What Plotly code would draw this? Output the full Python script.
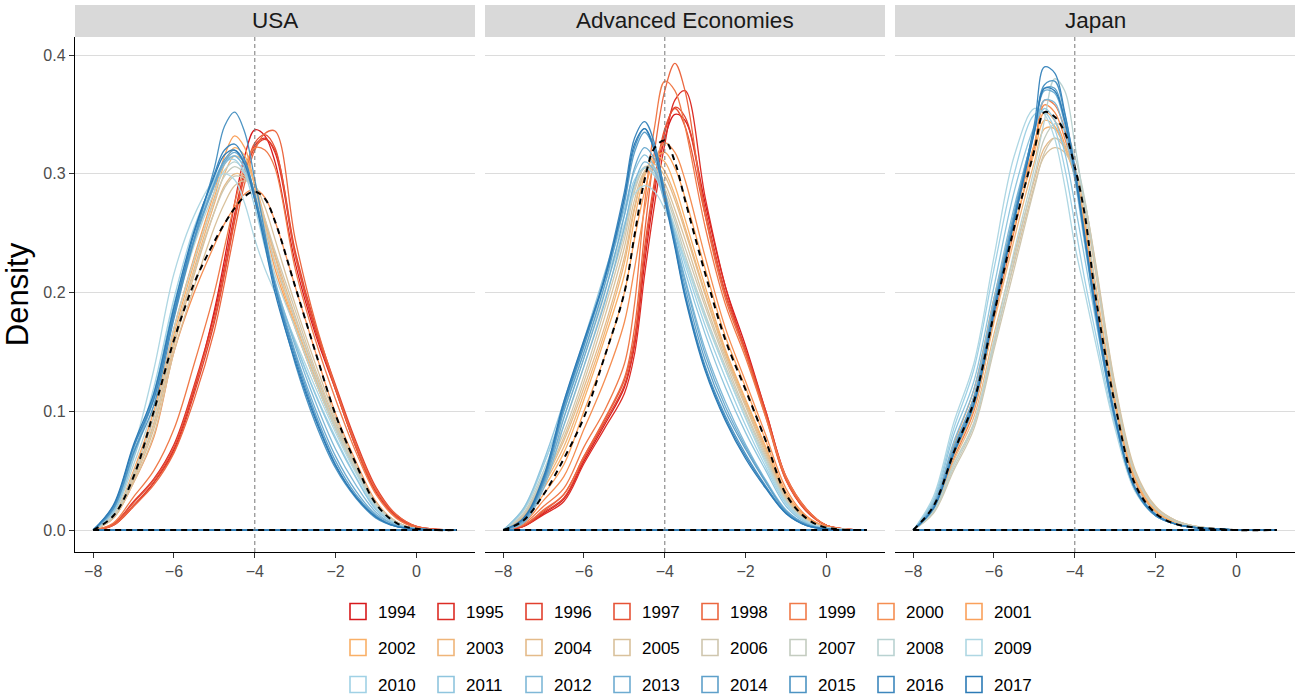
import plotly.graph_objects as go

# ---------------- data ----------------
X_GRID = [-8, -7.5, -7, -6.5, -6, -5.5, -5, -4.75, -4.5, -4.25, -4, -3.75, -3.5, -3, -2.5, -2, -1.5, -1, -0.5, 0, 1]
YEARS = list(range(1994, 2018))
PANELS = ["USA", "Advanced Economies", "Japan"]
X_TICKS = [-8, -6, -4, -2, 0]
Y_TICKS = [0.0, 0.1, 0.2, 0.3, 0.4]
REF_X = -4

USA_DENSITY = {
    1994: [0, .004, .020, .040, .068, .118, .185, .228, .275, .315, .337, .332, .310, .225, .165, .118, .070, .032, .011, .002, 0],
    1995: [0, .005, .024, .043, .072, .122, .182, .222, .266, .302, .324, .330, .318, .232, .168, .120, .072, .034, .012, .003, 0],
    1996: [0, .004, .021, .040, .066, .115, .175, .215, .260, .298, .322, .329, .320, .235, .172, .122, .075, .036, .013, .003, 0],
    1997: [0, .005, .023, .042, .070, .120, .178, .218, .262, .300, .326, .333, .322, .232, .170, .118, .070, .031, .011, .002, 0],
    1998: [0, .004, .020, .038, .065, .110, .168, .208, .252, .292, .320, .334, .336, .245, .175, .120, .072, .034, .013, .003, 0],
    1999: [0, .006, .028, .050, .085, .140, .200, .238, .275, .305, .322, .320, .305, .220, .160, .110, .066, .030, .010, .002, 0],
    2000: [0, .010, .040, .078, .150, .200, .240, .258, .272, .283, .287, .280, .260, .205, .150, .098, .058, .024, .007, .001, 0],
    2001: [0, .012, .050, .100, .170, .230, .285, .315, .332, .322, .290, .255, .220, .170, .125, .085, .050, .020, .006, .001, 0],
    2002: [0, .012, .048, .095, .165, .225, .280, .308, .322, .315, .290, .258, .225, .172, .125, .085, .050, .020, .006, .001, 0],
    2003: [0, .011, .045, .090, .160, .220, .275, .300, .315, .310, .292, .262, .230, .175, .128, .087, .052, .021, .006, .001, 0],
    2004: [0, .010, .042, .085, .155, .215, .268, .290, .300, .298, .285, .260, .232, .180, .132, .090, .054, .022, .007, .001, 0],
    2005: [0, .010, .040, .080, .150, .205, .255, .275, .290, .294, .290, .272, .245, .190, .140, .095, .056, .023, .007, .001, 0],
    2006: [0, .011, .044, .088, .160, .218, .268, .288, .298, .296, .285, .262, .235, .185, .135, .092, .055, .022, .007, .001, 0],
    2007: [0, .012, .048, .095, .170, .228, .278, .298, .306, .300, .283, .255, .225, .178, .130, .088, .052, .021, .006, .001, 0],
    2008: [0, .014, .055, .105, .180, .240, .285, .303, .310, .302, .280, .250, .215, .170, .125, .085, .050, .020, .006, .001, 0],
    2009: [0, .018, .068, .135, .216, .265, .295, .300, .295, .275, .245, .220, .200, .160, .120, .082, .048, .019, .005, .001, 0],
    2010: [0, .016, .062, .120, .195, .255, .295, .310, .312, .300, .272, .238, .205, .158, .115, .078, .045, .018, .005, .001, 0],
    2011: [0, .015, .060, .115, .190, .250, .293, .310, .315, .305, .278, .242, .208, .158, .114, .076, .044, .017, .005, .001, 0],
    2012: [0, .017, .064, .112, .185, .245, .290, .308, .315, .305, .278, .245, .210, .155, .108, .068, .038, .015, .004, .001, 0],
    2013: [0, .018, .066, .110, .182, .243, .290, .310, .318, .308, .280, .245, .208, .150, .102, .062, .033, .013, .004, .001, 0],
    2014: [0, .020, .070, .112, .185, .245, .292, .312, .320, .310, .282, .246, .206, .148, .098, .058, .030, .012, .003, .001, 0],
    2015: [0, .018, .065, .105, .178, .245, .305, .340, .352, .335, .295, .250, .205, .140, .090, .052, .027, .010, .003, .001, 0],
    2016: [0, .020, .070, .110, .182, .250, .300, .320, .325, .312, .282, .245, .205, .145, .095, .055, .028, .011, .003, .001, 0],
    2017: [0, .021, .072, .115, .188, .252, .298, .316, .320, .308, .278, .240, .200, .142, .093, .054, .028, .011, .003, .001, 0],
}
USA_ALL = [0, .012, .045, .100, .160, .208, .243, .258, .271, .281, .285, .279, .260, .205, .150, .097, .056, .022, .006, .001, 0]

AE_DENSITY = {
    1994: [0, .003, .014, .026, .058, .088, .120, .155, .225, .285, .330, .350, .345, .275, .205, .155, .100, .045, .018, .004, 0],
    1995: [0, .003, .013, .024, .056, .085, .115, .148, .215, .275, .325, .362, .370, .280, .205, .150, .097, .042, .016, .004, 0],
    1996: [0, .003, .015, .027, .060, .090, .122, .158, .232, .290, .335, .356, .348, .270, .200, .152, .100, .044, .017, .004, 0],
    1997: [0, .004, .016, .030, .062, .092, .126, .162, .238, .295, .338, .355, .340, .265, .198, .150, .098, .043, .016, .004, 0],
    1998: [0, .004, .017, .030, .062, .093, .128, .170, .250, .320, .370, .393, .370, .265, .195, .148, .095, .042, .017, .004, 0],
    1999: [0, .005, .020, .035, .070, .100, .140, .190, .275, .340, .378, .370, .340, .255, .190, .145, .095, .045, .018, .004, 0],
    2000: [0, .006, .025, .045, .085, .125, .175, .220, .270, .310, .326, .318, .295, .230, .170, .125, .080, .035, .012, .003, 0],
    2001: [0, .008, .030, .055, .100, .145, .200, .245, .285, .312, .318, .305, .280, .220, .163, .120, .075, .032, .011, .002, 0],
    2002: [0, .010, .035, .065, .110, .160, .215, .262, .298, .315, .310, .290, .262, .205, .152, .110, .070, .030, .010, .002, 0],
    2003: [0, .011, .038, .070, .115, .165, .225, .270, .302, .312, .302, .282, .255, .200, .150, .108, .068, .029, .010, .002, 0],
    2004: [0, .012, .040, .075, .120, .170, .230, .272, .300, .308, .298, .278, .252, .198, .148, .106, .066, .028, .009, .002, 0],
    2005: [0, .012, .042, .078, .125, .178, .238, .278, .302, .305, .292, .270, .245, .192, .145, .104, .064, .027, .009, .002, 0],
    2006: [0, .013, .044, .082, .130, .185, .245, .285, .305, .305, .288, .264, .238, .188, .142, .100, .062, .026, .008, .002, 0],
    2007: [0, .014, .047, .088, .138, .192, .250, .288, .306, .303, .284, .260, .232, .182, .138, .098, .060, .025, .008, .002, 0],
    2008: [0, .016, .050, .095, .145, .200, .255, .290, .305, .300, .280, .255, .228, .178, .135, .095, .058, .024, .008, .002, 0],
    2009: [0, .018, .055, .100, .150, .205, .258, .283, .290, .285, .270, .250, .228, .180, .135, .094, .056, .023, .007, .002, 0],
    2010: [0, .017, .055, .102, .155, .210, .265, .295, .305, .298, .278, .252, .224, .172, .128, .088, .053, .022, .007, .001, 0],
    2011: [0, .018, .058, .108, .160, .215, .270, .302, .316, .305, .280, .250, .218, .165, .120, .082, .050, .020, .006, .001, 0],
    2012: [0, .006, .035, .088, .138, .190, .255, .292, .310, .302, .275, .245, .212, .152, .108, .072, .042, .017, .005, .001, 0],
    2013: [0, .007, .038, .094, .145, .198, .265, .305, .322, .312, .280, .245, .210, .148, .104, .070, .041, .016, .005, .001, 0],
    2014: [0, .008, .040, .100, .150, .205, .275, .318, .335, .320, .285, .245, .205, .143, .100, .068, .040, .016, .005, .001, 0],
    2015: [0, .009, .042, .104, .155, .210, .280, .322, .338, .322, .283, .242, .200, .138, .096, .064, .037, .015, .004, .001, 0],
    2016: [0, .009, .043, .105, .158, .212, .285, .330, .344, .325, .282, .240, .198, .136, .094, .062, .036, .014, .004, .001, 0],
    2017: [0, .010, .045, .108, .160, .210, .280, .325, .338, .318, .278, .238, .196, .134, .092, .060, .035, .014, .004, .001, 0],
}
AE_ALL = [0, .008, .030, .060, .095, .145, .200, .248, .295, .322, .328, .310, .278, .216, .160, .118, .075, .030, .010, .002, 0]

JAPAN_DENSITY = {
    1999: [0, .018, .060, .100, .178, .252, .322, .362, .358, .338, .305, .255, .198, .100, .038, .014, .005, .002, .001, 0, 0],
    2000: [0, .020, .068, .112, .190, .262, .325, .358, .352, .330, .300, .252, .198, .102, .040, .015, .006, .002, .001, 0, 0],
    2001: [0, .022, .072, .118, .195, .265, .325, .352, .345, .325, .298, .255, .202, .105, .042, .016, .006, .002, .001, 0, 0],
    2002: [0, .020, .068, .110, .185, .255, .318, .345, .340, .322, .298, .258, .205, .108, .043, .016, .006, .002, .001, 0, 0],
    2003: [0, .018, .062, .102, .175, .245, .310, .338, .338, .322, .300, .262, .210, .110, .044, .017, .007, .003, .001, 0, 0],
    2004: [0, .016, .058, .095, .165, .232, .295, .322, .330, .322, .302, .270, .220, .118, .048, .019, .008, .003, .001, 0, 0],
    2005: [0, .015, .055, .090, .158, .225, .290, .315, .322, .318, .303, .275, .228, .122, .050, .020, .008, .003, .001, 0, 0],
    2006: [0, .014, .050, .085, .152, .220, .288, .318, .330, .325, .306, .276, .226, .120, .048, .019, .008, .003, .001, 0, 0],
    2007: [0, .015, .052, .088, .155, .228, .298, .330, .342, .338, .315, .278, .222, .115, .046, .018, .007, .003, .001, 0, 0],
    2008: [0, .016, .055, .090, .160, .235, .305, .345, .380, .370, .325, .270, .205, .100, .038, .014, .005, .002, .001, 0, 0],
    2009: [0, .028, .090, .140, .230, .315, .355, .350, .330, .290, .240, .200, .160, .085, .032, .012, .005, .002, .001, 0, 0],
    2010: [0, .026, .085, .135, .220, .300, .350, .352, .338, .305, .258, .210, .168, .088, .034, .013, .005, .002, .001, 0, 0],
    2011: [0, .024, .080, .125, .205, .285, .340, .355, .345, .318, .275, .228, .180, .092, .035, .013, .005, .002, .001, 0, 0],
    2012: [0, .022, .074, .118, .195, .272, .335, .362, .360, .335, .295, .240, .185, .094, .035, .013, .005, .002, .001, 0, 0],
    2013: [0, .020, .070, .112, .190, .268, .338, .370, .368, .342, .300, .245, .188, .094, .034, .012, .005, .002, .001, 0, 0],
    2014: [0, .020, .068, .110, .188, .265, .338, .372, .372, .345, .302, .246, .188, .093, .034, .012, .005, .002, .001, 0, 0],
    2015: [0, .019, .066, .108, .186, .262, .336, .375, .378, .350, .305, .248, .190, .095, .035, .013, .005, .002, .001, 0, 0],
    2016: [0, .018, .064, .106, .185, .262, .342, .390, .385, .352, .305, .245, .185, .092, .034, .012, .005, .002, .001, 0, 0],
    2017: [0, .018, .064, .105, .182, .260, .335, .372, .370, .345, .300, .245, .190, .095, .035, .013, .005, .002, .001, 0, 0],
}
JAPAN_ALL = [0, .020, .065, .108, .182, .255, .320, .352, .348, .335, .306, .265, .200, .105, .038, .014, .005, .002, .001, 0, 0]

# ---------------- style ----------------
ANCHORS = ["#d7191c", "#fdae61", "#abd9e9", "#2c7bb6"]


def ramp(anchors, n):
    rgb = [tuple(int(a[i:i + 2], 16) for i in (1, 3, 5)) for a in anchors]
    out = []
    for k in range(n):
        t = k / (n - 1) * (len(rgb) - 1)
        j = min(int(t), len(rgb) - 2)
        f = t - j
        c = [round(rgb[j][m] + (rgb[j + 1][m] - rgb[j][m]) * f) for m in range(3)]
        out.append("#%02x%02x%02x" % tuple(c))
    return out


COLORS = dict(zip(YEARS, ramp(ANCHORS, len(YEARS))))
FONT = "Liberation Sans, Arial, Helvetica, sans-serif"

W, H = 1304, 700
ML, MR, MT, MB = 75, 9, 37, 148
PW = W - ML - MR
PH = H - MT - MB
DOMAINS = [[0, 400 / PW], [410 / PW, 810 / PW], [820 / PW, 1.0]]
X_RANGE = [-8.45, 1.45]
Y_RANGE = [-0.0185, 0.4152]


def closed(ys):
    # density outline plus its baseline (as ggplot's geom_density draws it)
    return X_GRID + [None, X_GRID[0], X_GRID[-1]], list(ys) + [None, 0, 0]


fig = go.Figure()

panel_data = [(USA_DENSITY, USA_ALL), (AE_DENSITY, AE_ALL), (JAPAN_DENSITY, JAPAN_ALL)]
for p, (dens, pooled) in enumerate(panel_data):
    xa = "x" if p == 0 else "x%d" % (p + 1)
    ya = "y" if p == 0 else "y%d" % (p + 1)
    for yr in YEARS:
        if yr not in dens:
            continue
        xs, ys = closed(dens[yr])
        fig.add_trace(go.Scatter(
            x=xs, y=ys, connectgaps=False,
            mode="lines", line=dict(color=COLORS[yr], width=1.3, shape="spline", smoothing=1, simplify=False),
            xaxis=xa, yaxis=ya, showlegend=False, hoverinfo="skip",
        ))
    xs, ys = closed(pooled)
    fig.add_trace(go.Scatter(
        x=xs, y=ys, connectgaps=False,
        mode="lines", line=dict(color="black", width=2, dash="6px,5px", shape="spline", smoothing=1, simplify=False),
        xaxis=xa, yaxis=ya, showlegend=False, hoverinfo="skip",
    ))

# legend entries (three rows of eight)
for i, yr in enumerate(YEARS):
    row = i // 8
    fig.add_trace(go.Scatter(
        x=[None], y=[None], mode="markers", name=str(yr),
        marker=dict(symbol="square-open", size=16, color=COLORS[yr], line=dict(width=1.6, color=COLORS[yr])),
        legend="legend" if row == 0 else "legend%d" % (row + 1),
        showlegend=True, hoverinfo="skip",
    ))

layout = dict(
    width=W, height=H,
    margin=dict(l=ML, r=MR, t=MT, b=MB, pad=0, autoexpand=False),
    plot_bgcolor="white", paper_bgcolor="white",
    font=dict(family=FONT, color="black"),
    showlegend=True,
)

for p in range(3):
    sx = "" if p == 0 else str(p + 1)
    layout["xaxis" + sx] = dict(
        domain=DOMAINS[p], range=X_RANGE, anchor="y" + sx,
        tickvals=X_TICKS, ticks="outside", ticklen=5, tickwidth=1.2, tickcolor="#333333",
        showline=True, linecolor="black", linewidth=1.4, showgrid=False, zeroline=False,
        tickfont=dict(size=16, color="#4d4d4d", family=FONT),
    )
    yax = dict(
        domain=[0, 1], range=Y_RANGE, anchor="x" + sx,
        tickvals=Y_TICKS, showgrid=True, gridcolor="#dcdcdc", gridwidth=1.3, zeroline=False,
    )
    if p == 0:
        yax.update(
            showline=True, linecolor="black", linewidth=1.4,
            ticks="outside", ticklen=5, tickwidth=1.2, tickcolor="#333333",
            tickformat=".1f", tickfont=dict(size=16, color="#4d4d4d", family=FONT),
            title=dict(text="Density", font=dict(size=31, color="black", family=FONT), standoff=8),
        )
    else:
        yax.update(showline=False, showticklabels=False, ticks="", matches="y")
    layout["yaxis" + sx] = yax

leg_common = dict(
    orientation="h", xanchor="left", yanchor="middle", x=(338 - ML) / PW,
    font=dict(size=17, color="black", family=FONT), entrywidth=43, entrywidthmode="pixels",
    bgcolor="rgba(0,0,0,0)", borderwidth=0, itemclick=False, itemdoubleclick=False,
)
row_px = [612, 648, 685]
for r in range(3):
    key = "legend" if r == 0 else "legend%d" % (r + 1)
    layout[key] = dict(leg_common, y=(H - MB - row_px[r]) / PH)

fig.update_layout(**layout)

strip_bottom = 1.0
strip_top = 1.0 + (MT - 5) / PH
for p, name in enumerate(PANELS):
    sx = "" if p == 0 else str(p + 1)
    fig.add_shape(type="rect", xref="x%s domain" % sx, yref="paper",
                  x0=0, x1=1, y0=strip_bottom, y1=strip_top,
                  fillcolor="#d9d9d9", line=dict(width=0), layer="below")
    fig.add_annotation(text=name, xref="x%s domain" % sx, yref="paper",
                       x=0.5, y=(strip_bottom + strip_top) / 2, showarrow=False,
                       xanchor="center", yanchor="middle",
                       font=dict(size=22.5, color="#1a1a1a", family=FONT))
    fig.add_shape(type="line", xref="x" + sx, yref="y%s domain" % sx,
                  x0=REF_X, x1=REF_X, y0=0, y1=1,
                  line=dict(color="#777777", width=1, dash="4px,3px"), layer="above")

fig.write_html("out.html")
